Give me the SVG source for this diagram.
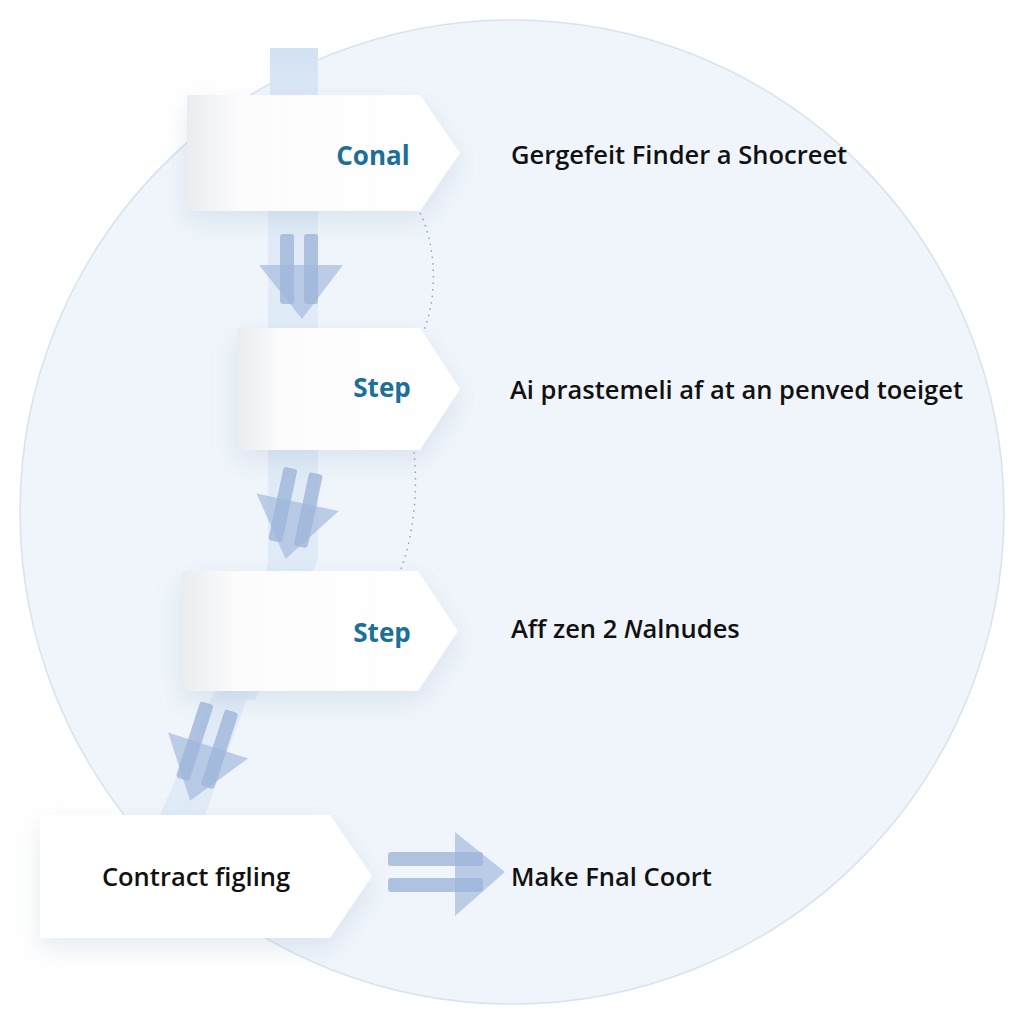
<svg xmlns="http://www.w3.org/2000/svg" width="1024" height="1024" viewBox="0 0 1024 1024">
<defs>
<linearGradient id="nodeGrad" x1="0" y1="0" x2="1" y2="0">
<stop offset="0" stop-color="#eaecef"/>
<stop offset="0.2" stop-color="#fcfcfd"/>
<stop offset="1" stop-color="#ffffff"/>
</linearGradient>
<filter id="shadow" x="-20%" y="-30%" width="140%" height="170%">
<feDropShadow dx="0" dy="10" stdDeviation="13" flood-color="#8aa0bd" flood-opacity="0.22"/>
</filter>
<linearGradient id="bandGrad" x1="0" y1="0" x2="0" y2="1">
<stop offset="0" stop-color="#d3e2f3"/>
<stop offset="1" stop-color="#dce8f5"/>
</linearGradient>
</defs>
<style>
.node-shape{fill:url(#nodeGrad);filter:url(#shadow);}
.plain{fill:#ffffff;filter:url(#shadow);}
.step{font-family:"Open Sans","Noto Sans",sans-serif;font-weight:700;font-size:26px;fill:#1b6f98;text-anchor:middle;dominant-baseline:central;}
.lbl{font-family:"Open Sans","Noto Sans",sans-serif;font-weight:600;font-size:25.5px;fill:#111111;dominant-baseline:central;}
.arr{fill:#9fb5da;opacity:0.8;}
.arrHead{fill:#a9bfdf;opacity:0.75;}
.dots{fill:none;stroke:#9aa3ad;stroke-width:1.5;stroke-dasharray:1.5 5;}
</style>
<rect width="1024" height="1024" fill="#ffffff"/>
<circle cx="512" cy="512" r="492" fill="#f0f5fb" stroke="#d6e3f0" stroke-width="1.5"/>

<g id="band">
<rect x="270" y="48" width="48" height="60" fill="url(#bandGrad)"/>
<polygon points="268,200 318,200 318,560 300,600 255,700 215,700 262,600 268,560" fill="#dbe7f5" opacity="0.75"/>
<polygon points="215,690 250,690 205,815 160,815" fill="#dbe7f5" opacity="0.75"/>
</g>

<g id="connectors">
<path class="dots" d="M420,213 C436,245 438,295 424,330"/>
<path class="dots" d="M414,452 C418,490 414,535 400,572"/>
<g id="arrow1">
<polygon class="arrHead" points="259,265 343,265 302,319"/>
<rect class="arr" x="280" y="234" width="14" height="70" rx="3"/>
<rect class="arr" x="304" y="234" width="14" height="70" rx="3"/>
</g>
<g id="arrow2" transform="rotate(12 295 515)">
<polygon class="arrHead" points="253,502 337,502 295,560"/>
<rect class="arr" x="274" y="470" width="14" height="75" rx="3"/>
<rect class="arr" x="300" y="470" width="14" height="75" rx="3"/>
</g>
<g id="arrow3" transform="rotate(18 205 755)">
<polygon class="arrHead" points="163,745 247,745 205,803"/>
<rect class="arr" x="184" y="705" width="14" height="80" rx="3"/>
<rect class="arr" x="210" y="705" width="14" height="80" rx="3"/>
</g>
<g id="arrow4">
<polygon class="arrHead" points="455,832 505,872 455,916"/>
<rect class="arr" x="388" y="852" width="95" height="14" rx="3"/>
<rect class="arr" x="388" y="878" width="95" height="14" rx="3"/>
</g>
</g>

<g id="node1">
<polygon class="node-shape" points="187,95 420,95 460,153 420,211 187,211"/>
<text class="step" x="373" y="155">Conal</text>
</g>
<g id="node2">
<polygon class="node-shape" points="237,328 420,328 460,389 420,450 237,450"/>
<text class="step" x="382" y="387">Step</text>
</g>
<g id="node3">
<polygon class="node-shape" points="182,571 418,571 458,631 418,691 182,691"/>
<text class="step" x="382" y="632">Step</text>
</g>
<g id="node4">
<polygon class="plain" points="40,815 330,815 372,876 330,938 40,938"/>
<text class="lbl" x="196" y="876" text-anchor="middle" font-size="27">Contract figling</text>
</g>

<g id="labels">
<text class="lbl" x="511" y="154">Gergefeit Finder a Shocreet</text>
<text class="lbl" x="510" y="389">Ai prastemeli af at an penved toeiget</text>
<text class="lbl" x="511" y="628">Aff zen 2 <tspan font-style="italic">N</tspan>alnudes</text>
<text class="lbl" x="511" y="876">Make Fnal Coort</text>
</g>
</svg>
